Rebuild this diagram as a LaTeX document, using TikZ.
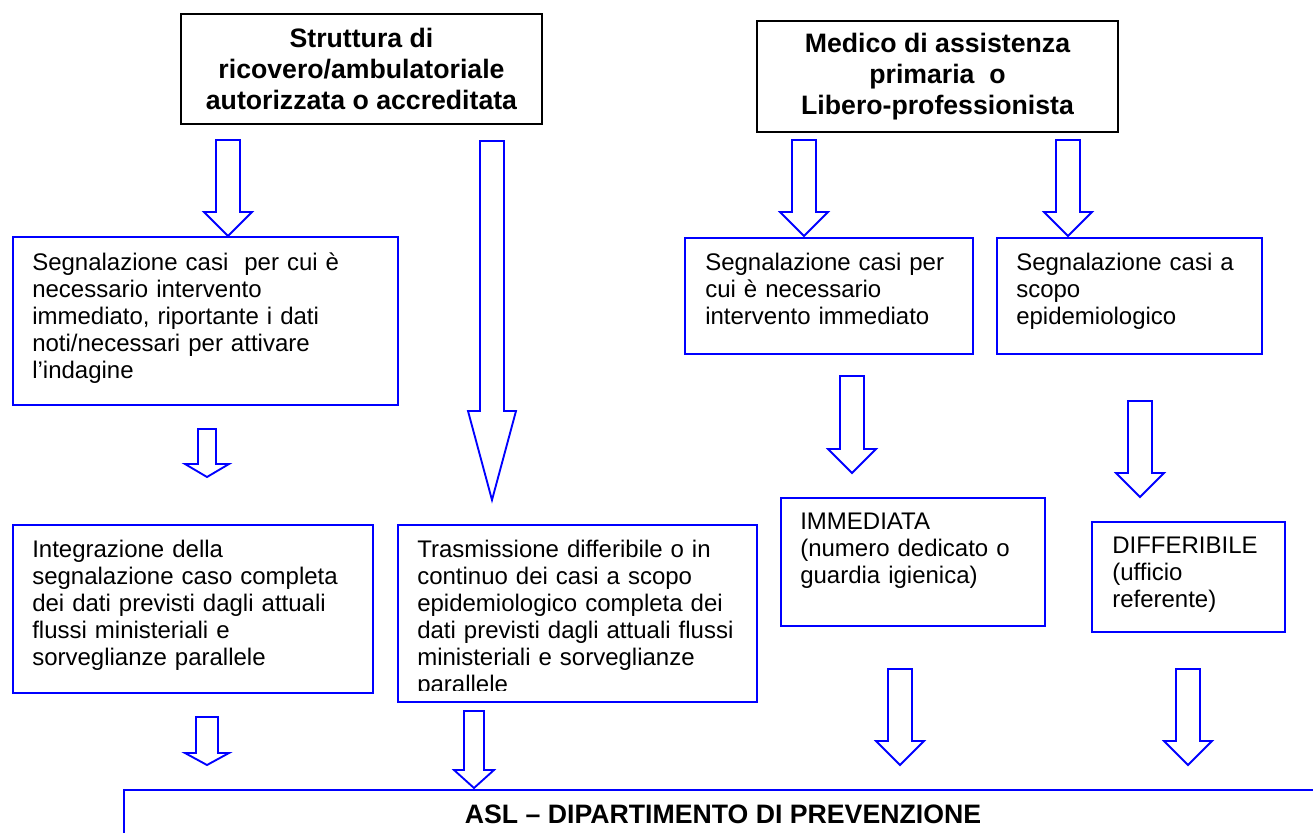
\documentclass[tikz,border=0pt]{standalone}
\usepackage{fontspec}
\setmainfont{Liberation Sans}
\usetikzlibrary{calc}
\definecolor{flowblue}{RGB}{0,0,255}

\tikzset{
  srcbox/.style={draw=black, line width=1.5pt, anchor=north west, inner sep=0pt, align=center,
    font=\bfseries\fontsize{20}{23}\selectfont},
  flowbox/.style={draw=flowblue, line width=1.5pt, anchor=north west, inner sep=0pt},
  boxtext/.style={anchor=base west, align=left, inner sep=0pt, text width=380pt,
    font=\fontsize{18}{20.25}\selectfont},
  blockarrow/.style={draw=flowblue, line width=1.4pt, line join=miter}
}

\begin{document}
\begin{tikzpicture}[x=0.75pt,y=-0.75pt]
\useasboundingbox (0,0) rectangle (1313,832);

\node[srcbox, minimum width=270.75pt, minimum height=82.5pt] (struttura) at (180,13)
  {Struttura di\\ricovero/ambulatoriale\\autorizzata o accreditata};
\node[srcbox, minimum width=270.75pt, minimum height=83.25pt] (medico) at (756,20)
  {Medico di assistenza\\primaria\ \ o\\Libero-professionista};

\node[flowbox, minimum width=288.75pt, minimum height=126pt] (segimm) at (12,236) {};
\node[flowbox, minimum width=216pt, minimum height=87pt] (segmed) at (684,237) {};
\node[flowbox, minimum width=198.75pt, minimum height=87pt] (segepi) at (996,237) {};
\node[flowbox, minimum width=270pt, minimum height=126pt] (integr) at (12,524) {};
\node[flowbox, minimum width=269.25pt, minimum height=132.75pt] (trasm) at (397,524) {};
\node[flowbox, minimum width=198pt, minimum height=96pt] (immed) at (780,497) {};
\node[flowbox, minimum width=144.75pt, minimum height=82.5pt] (differ) at (1091,521) {};
\node[flowbox, minimum width=901.5pt, minimum height=45pt] (asl) at (123,789) {};

\node[boxtext] (segimmtxt) at (32,270) {Segnalazione casi\ \ per cui è\\necessario intervento\\immediato, riportante i dati\\noti/necessari per attivare\\l’indagine};
\node[boxtext] (segmedtxt) at (705,270) {Segnalazione casi per\\cui è necessario\\intervento immediato};
\node[boxtext] (segepitxt) at (1016,270) {Segnalazione casi a\\scopo\\epidemiologico};
\node[boxtext] (integrtxt) at (32,557) {Integrazione della\\segnalazione caso completa\\dei dati previsti dagli attuali\\flussi ministeriali e\\sorveglianze parallele};
\begin{scope}
\clip (397,524) rectangle (756,690);
\node[boxtext] (trasmtxt) at (417,557) {Trasmissione differibile o in\\continuo dei casi a scopo\\epidemiologico completa dei\\dati previsti dagli attuali flussi\\ministeriali e sorveglianze\\parallele};
\end{scope}
\node[boxtext] (immedtxt) at (800,529) {IMMEDIATA\\(numero dedicato o\\guardia igienica)};
\node[boxtext] (differtxt) at (1112,553) {DIFFERIBILE\\(ufficio\\referente)};
\node[anchor=base, inner sep=0pt, font=\bfseries\fontsize{20}{23}\selectfont] (asltxt) at (723,823)
  {ASL – DIPARTIMENTO DI PREVENZIONE};

\foreach \i/\x/\ya/\yb/\hs/\hw/\hl in {%
  1/228/140/236/12/24/24,%
  2/492/141/500/12/24/89,%
  3/804/140/236/12/24/24,%
  4/1068/140/236/12/24/24,%
  5/207/429/477/9/22/13,%
  6/852/376/473/12/24/24,%
  7/1140/401/497/12/24/24,%
  8/900/669/765/12/24/24,%
  9/1188/669/765/12/24/24,%
  10/207/717/765/11/22/12,%
  11/474/711/788/10/20/18%
}{
  \coordinate (arrtop\i) at (\x,\ya);
  \coordinate (arrtip\i) at (\x,\yb);
  \draw[blockarrow] ($(arrtop\i)+(-\hs,0)$) -- ($(arrtop\i)+(\hs,0)$) -- ($(arrtip\i)+(\hs,-\hl)$)
    -- ($(arrtip\i)+(\hw,-\hl)$) -- (arrtip\i) -- ($(arrtip\i)+(-\hw,-\hl)$)
    -- ($(arrtip\i)+(-\hs,-\hl)$) -- cycle;
}
\end{tikzpicture}
\end{document}
